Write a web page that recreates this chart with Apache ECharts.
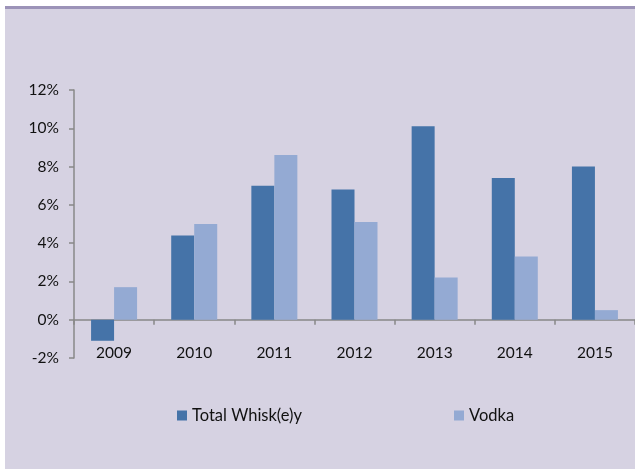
<!DOCTYPE html>
<html>
<head>
<meta charset="utf-8">
<script src="https://cdn.jsdelivr.net/npm/echarts@6/dist/echarts.min.js"></script>
<style>
  html, body { margin: 0; padding: 0; background: #ffffff; }
  #chart { width: 635px; height: 469px; }
</style>
</head>
<body>
<div id="chart"></div>
<script>
// data
const years = ['2009', '2010', '2011', '2012', '2013', '2014', '2015'];
const whiskyValues = [-1.1, 4.4, 7.0, 6.8, 10.1, 7.4, 8.0];
const vodkaValues = [1.7, 5.0, 8.6, 5.1, 2.2, 3.3, 0.5];
const yTicks = [-2, 0, 2, 4, 6, 8, 10, 12];

const whiskyColor = '#4573a8';
const vodkaColor = '#94aad3';
const bgColor = '#d6d2e2';
const axisColor = '#888888';
const fontFamily = 'Lato, "Open Sans", sans-serif';
const fontSize = 15.5;

const chart = echarts.init(document.getElementById('chart'));

const legendText = { fontSize: 16.5, color: '#111111', fontFamily: fontFamily };

const option = {
  animation: false,
  backgroundColor: '#ffffff',
  textStyle: { fontFamily: fontFamily },
  graphic: [
    // lavender chart area with darker top rule
    { type: 'rect', left: 5, top: 6, shape: { width: 630, height: 463 }, style: { fill: bgColor }, z: -10 },
    { type: 'rect', left: 5, top: 6, shape: { width: 630, height: 3 }, style: { fill: '#9c93b8' }, z: -9 }
  ],
  grid: { left: 74, right: 0, top: 90, bottom: 111, containLabel: false },
  legend: [
    {
      data: ['Total Whisk(e)y'],
      left: 172, top: 402,
      itemWidth: 10, itemHeight: 10, itemGap: 4,
      icon: 'rect',
      textStyle: legendText
    },
    {
      data: ['Vodka'],
      left: 449, top: 402,
      itemWidth: 10, itemHeight: 10, itemGap: 4,
      icon: 'rect',
      textStyle: legendText
    }
  ],
  xAxis: {
    type: 'category',
    data: years,
    axisLine: { onZero: true, lineStyle: { color: axisColor, width: 1.5 } },
    axisTick: { show: true, length: 5, lineStyle: { color: axisColor, width: 1.5 } },
    axisLabel: { margin: -13, fontSize: fontSize, color: '#111111' },
    splitLine: { show: false }
  },
  yAxis: {
    type: 'value',
    min: yTicks[0],
    max: yTicks[yTicks.length - 1],
    interval: 2,
    axisLine: { show: true, lineStyle: { color: axisColor, width: 1.5 } },
    axisTick: { show: true, length: 5, lineStyle: { color: axisColor, width: 1.5 } },
    axisLabel: { margin: 15, fontSize: fontSize, color: '#111111', formatter: v => v + '%' },
    splitLine: { show: false }
  },
  series: [
    {
      name: 'Total Whisk(e)y',
      type: 'bar',
      data: whiskyValues,
      barWidth: 23,
      barGap: '0%',
      itemStyle: { color: whiskyColor }
    },
    {
      name: 'Vodka',
      type: 'bar',
      data: vodkaValues,
      barWidth: 23,
      barGap: '0%',
      itemStyle: { color: vodkaColor }
    }
  ]
};

chart.setOption(option);
</script>
</body>
</html>
